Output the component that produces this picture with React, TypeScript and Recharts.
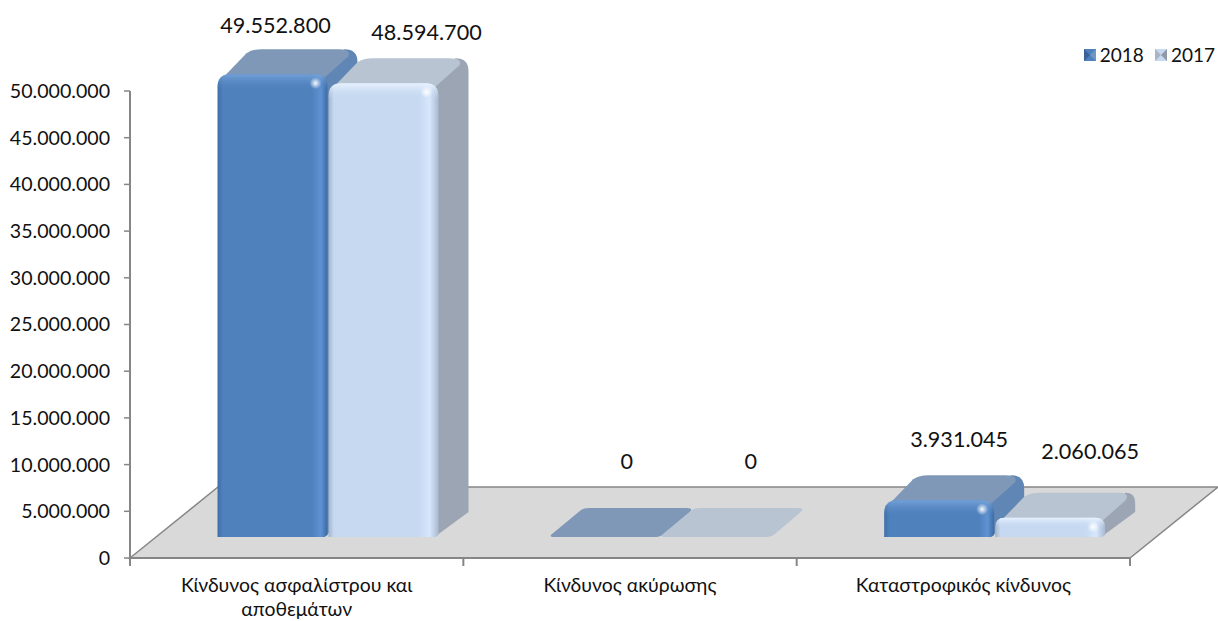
import React from 'react';
import { BarChart, Bar, XAxis, YAxis, Legend, LabelList, ReferenceArea } from 'recharts';

const categories = ['Κίνδυνος ασφαλίστρου και αποθεμάτων', 'Κίνδυνος ακύρωσης', 'Καταστροφικός κίνδυνος'];
const categoryLines = [['Κίνδυνος ασφαλίστρου και', 'αποθεμάτων'], ['Κίνδυνος ακύρωσης'], ['Καταστροφικός κίνδυνος']];
const values2018 = [49552800, 0, 3931045];
const values2017 = [48594700, 0, 2060065];
const yTicks = [0, 5000000, 10000000, 15000000, 20000000, 25000000, 30000000, 35000000, 40000000, 45000000, 50000000];

const chartData = categories.map((name, i) => ({ name, y2018: values2018[i], y2017: values2017[i] }));

const FONT = 'Lato, "Open Sans", sans-serif';
const AXIS = '#868686';
const FLOOR_TOP = 7600000;
const DX = 30;
const DY = 25;
const SHIFT_X = 31.5;
const SHIFT_Y = 21;

// label nudges from the top-front centre of each bar
const labelNudge2018 = [[3, -49], [21, -76], [20, -61]];
const labelNudge2017 = [[43, -51], [34, -76], [40, -67]];

const fmt = (v: number) => v.toLocaleString('de-DE');

const palette2018 = { id: 'a', top: '#7F98B8', side: '#5F86B4', flat: '#7F98B8' };
const palette2017 = { id: 'b', top: '#B9C4D2', side: '#9CA5B3', flat: '#B9C4D2' };

const Bar3D = (props: any) => {
  const { x, y, width, height, colors } = props;
  const fx = x + SHIFT_X;
  const fy = y - SHIFT_Y;
  const w = width;
  const h = height;
  if (h < 1) {
    const d = 29;
    return (
      <path
        d={`M${fx + 3},${fy} L${fx + w - 4},${fy} Q${fx + w},${fy} ${fx + w + 3},${fy - 3} L${fx + w + DX - 1},${fy - d + 4}
          Q${fx + w + DX + 3},${fy - d} ${fx + w + DX - 4},${fy - d} L${fx + DX + 8},${fy - d} Q${fx + DX + 2},${fy - d} ${fx + DX - 1},${fy - d + 3}
          L${fx},${fy - 2} Q${fx - 1},${fy} ${fx + 3},${fy} Z`}
        fill={colors.flat}
      />
    );
  }
  const r = Math.min(13, h / 2);
  const bev = Math.min(16, h / 2);
  return (
    <g>
      <path
        d={`M${fx + w - 4},${fy + h} L${fx + w + DX},${fy + h - DY} L${fx + w + DX},${fy - DY + r} Q${fx + w + DX},${fy - DY} ${fx + w + DX - r},${fy - DY}
          L${fx + w - r},${fy} L${fx + w - 4},${fy + r} Z`}
        fill={colors.side}
      />
      <path
        d={`M${fx + 2},${fy + 7} L${fx + DX - 1},${fy - DY + 4} Q${fx + DX + 5},${fy - DY} ${fx + DX + 14},${fy - DY} L${fx + w + DX - r - 6},${fy - DY}
          Q${fx + w + DX - 6},${fy - DY} ${fx + w + DX - 9},${fy - DY + 7} L${fx + w - 6},${fy + 6} Z`}
        fill={colors.top}
      />
      <path
        d={`M${fx},${fy + h} L${fx},${fy + r} Q${fx},${fy} ${fx + r},${fy} L${fx + w - r},${fy} Q${fx + w},${fy} ${fx + w},${fy + r} L${fx + w},${fy + h - 2} L${fx + w - 3},${fy + h} Z`}
        fill={`url(#front-${colors.id})`}
      />
      <path
        d={`M${fx},${fy + bev} L${fx},${fy + r} Q${fx},${fy} ${fx + r},${fy} L${fx + w - r},${fy} Q${fx + w},${fy} ${fx + w},${fy + r} L${fx + w},${fy + bev} Z`}
        fill={`url(#bevel-${colors.id})`}
      />
      <ellipse cx={fx + w - 12} cy={fy + 9} rx={6} ry={6} fill="url(#spec)" />
    </g>
  );
};

const Floor = (props: any) => {
  const { x, y, width, height } = props;
  const d = 88;
  return (
    <path
      d={`M${x},${y + height} L${x + d},${y} L${x + width + d},${y} L${x + width},${y + height} Z`}
      fill="#D9D9D9"
      stroke={AXIS}
      strokeWidth={1.5}
    />
  );
};

const CategoryTick = (props: any) => {
  const { x, y, index } = props;
  const half = 333.3 / 2;
  return (
    <g>
      <line x1={x - half} x2={x - half} y1={y - 8} y2={y} stroke={AXIS} strokeWidth={2} />
      {index === categories.length - 1 && (
        <line x1={x + half} x2={x + half} y1={y - 8} y2={y} stroke={AXIS} strokeWidth={2} />
      )}
      <text textAnchor="middle" fontSize={19.4} fontFamily={FONT} fill="#111">
        {categoryLines[index].map((line, i) => (
          <tspan key={line} x={x} y={y + 26 + i * 24}>{line}</tspan>
        ))}
      </text>
    </g>
  );
};

const makeLabel = (nudge: number[][]) => (props: any) => {
  const { x, y, width, value, index } = props;
  return (
    <text
      x={x + width / 2 + SHIFT_X + nudge[index][0]}
      y={y - SHIFT_Y + nudge[index][1]}
      textAnchor="middle"
      dominantBaseline="central"
      fontSize={21.6}
      fontFamily={FONT}
      fill="#111"
    >
      {fmt(value)}
    </text>
  );
};

const LegendSwatch = ({ dark, mid, light }: { dark: string; mid: string; light: string }) => (
  <svg width={12} height={12} style={{ marginRight: 4 }}>
    <rect width={12} height={12} fill={mid} />
    <polygon points="0,0 6,6 0,12" fill={dark} />
    <polygon points="12,0 6,6 12,12" fill={light} />
  </svg>
);

const LegendBox = () => (
  <div style={{ display: 'flex', alignItems: 'center', fontFamily: FONT, fontSize: 19, color: '#111' }}>
    <LegendSwatch dark="#3A6296" mid="#4F81BD" light="#6F98C8" />
    <span style={{ marginRight: 11 }}>2018</span>
    <LegendSwatch dark="#A9B4C4" mid="#C6D9F1" light="#8F98A6" />
    <span>2017</span>
  </div>
);

export default function App() {
  return (
    <div style={{ position: 'absolute', left: 0, top: 0, width: 1218, height: 621, background: '#fff' }}>
      <BarChart
        width={1218}
        height={621}
        data={chartData}
        margin={{ top: 91, right: 88, bottom: 0, left: 0 }}
        barSize={110}
        barGap={1}
      >
        <defs>
          <linearGradient id="front-a" x1="0" x2="1" y1="0" y2="0">
            <stop offset="0" stopColor="#3F6EA8" />
            <stop offset="0.05" stopColor="#4F81BD" />
            <stop offset="0.86" stopColor="#4F81BD" />
            <stop offset="0.94" stopColor="#5E92D2" />
            <stop offset="1" stopColor="#3D6BA3" />
          </linearGradient>
          <linearGradient id="front-b" x1="0" x2="1" y1="0" y2="0">
            <stop offset="0" stopColor="#A4B4C9" />
            <stop offset="0.05" stopColor="#C6D9F1" />
            <stop offset="0.82" stopColor="#C6D9F1" />
            <stop offset="0.92" stopColor="#D6E7FD" />
            <stop offset="1" stopColor="#A9B9D0" />
          </linearGradient>
          <linearGradient id="bevel-a" x1="0" x2="0" y1="0" y2="1">
            <stop offset="0" stopColor="#7BA6DC" stopOpacity={0.85} />
            <stop offset="1" stopColor="#4F81BD" stopOpacity={0} />
          </linearGradient>
          <linearGradient id="bevel-b" x1="0" x2="0" y1="0" y2="1">
            <stop offset="0" stopColor="#EAF3FF" stopOpacity={0.95} />
            <stop offset="1" stopColor="#C6D9F1" stopOpacity={0} />
          </linearGradient>
          <radialGradient id="spec">
            <stop offset="0" stopColor="#ffffff" stopOpacity={0.95} />
            <stop offset="1" stopColor="#ffffff" stopOpacity={0} />
          </radialGradient>
        </defs>
        <ReferenceArea y1={0} y2={FLOOR_TOP} shape={<Floor />} ifOverflow="visible" />
        <XAxis
          dataKey="name"
          height={63}
          interval={0}
          tickLine={false}
          axisLine={{ stroke: AXIS, strokeWidth: 2 }}
          tick={<CategoryTick />}
        />
        <YAxis
          width={130}
          domain={[0, 50000000]}
          ticks={yTicks}
          interval={0}
          tickFormatter={fmt}
          tickSize={6}
          tickMargin={14}
          axisLine={{ stroke: AXIS, strokeWidth: 2 }}
          tickLine={{ stroke: AXIS, strokeWidth: 1.5 }}
          tick={{ fill: '#111', fontSize: 19.6, fontFamily: FONT }}
        />
        <Legend
          verticalAlign="middle"
          align="center"
          content={<LegendBox />}
          wrapperStyle={{ position: 'absolute', top: 43, right: 3, left: 'auto', bottom: 'auto', width: 'auto' }}
        />
        <Bar dataKey="y2018" name="2018" isAnimationActive={false} shape={<Bar3D colors={palette2018} />}>
          <LabelList dataKey="y2018" content={makeLabel(labelNudge2018)} />
        </Bar>
        <Bar dataKey="y2017" name="2017" isAnimationActive={false} shape={<Bar3D colors={palette2017} />}>
          <LabelList dataKey="y2017" content={makeLabel(labelNudge2017)} />
        </Bar>
      </BarChart>
    </div>
  );
}
